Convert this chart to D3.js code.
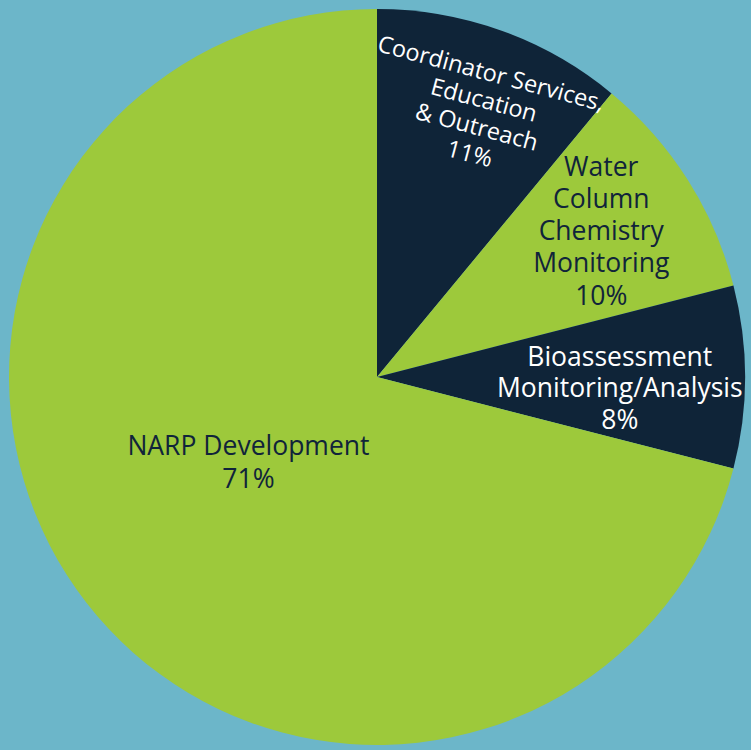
<!DOCTYPE html>
<html><head><meta charset="utf-8">
<script src="https://cdn.jsdelivr.net/npm/d3@7"></script>
<style>html,body{margin:0;padding:0;background:#6cb6c9;}svg{display:block;}</style>
</head><body>
<svg id="c" width="751" height="750"></svg>
<script>
const categories = ["Coordinator Services, Education & Outreach", "Water Column Chemistry Monitoring", "Bioassessment Monitoring/Analysis", "NARP Development"];
const values = [11, 10, 8, 71];
const labelLines = [["Coordinator Services,", "Education", "& Outreach", "11%"], ["Water", "Column", "Chemistry", "Monitoring", "10%"], ["Bioassessment", "Monitoring/Analysis", "8%"], ["NARP Development", "71%"]];
const colors = ["#0f2438", "#9dc93b", "#0f2438", "#9dc93b"];
const textColors = ["#ffffff", "#10243a", "#ffffff", "#10243a"];

const W = 751, H = 750, cx = 377, cy = 377, R = 368;
const svg = d3.select("#c");
svg.append("rect").attr("width", W).attr("height", H).attr("fill", "#6cb6c9");
const g = svg.append("g").attr("transform", `translate(${cx},${cy})`);
const data = categories.map((c, i) => ({c, v: values[i], i}));
const pie = d3.pie().value(d => d.v).sort(null);
const arcs = pie(data);
const arc = d3.arc().innerRadius(0).outerRadius(R);
g.selectAll("path").data(arcs).join("path").attr("d", arc).attr("fill", d => colors[d.data.i]);

// label layout: radius and angle offset (degrees) relative to slice mid-angle
const lblLayout = [{r: 284, da: 1.6, rot: 15, lh: 27.7, fs: 23.5}, {r: 268, da: -0.8, rot: 0, lh: 32.2, fs: 26.5}, {r: 243, da: 2.4, rot: 0, lh: 31.5, fs: 26.5}, {r: 154, da: 4.4, rot: 0, lh: 33, fs: 26.5}];
arcs.forEach((a, k) => {
  const L = lblLayout[k];
  const mid = (a.startAngle + a.endAngle) / 2 + L.da * Math.PI / 180;
  const x = Math.sin(mid) * L.r, y = -Math.cos(mid) * L.r;
  const lines = labelLines[k];
  const lg = g.append("g")
    .attr("transform", `translate(${x},${y}) rotate(${L.rot})`)
    .attr("text-anchor", "middle")
    .attr("font-family", "'Open Sans', sans-serif")
    .attr("font-size", L.fs)
    .attr("fill", textColors[k]);
  lines.forEach((ln, j) => {
    lg.append("text").attr("x", 0).attr("y", (j - (lines.length - 1) / 2) * L.lh)
      .attr("dominant-baseline", "central").text(ln);
  });
});
</script>
</body></html>
